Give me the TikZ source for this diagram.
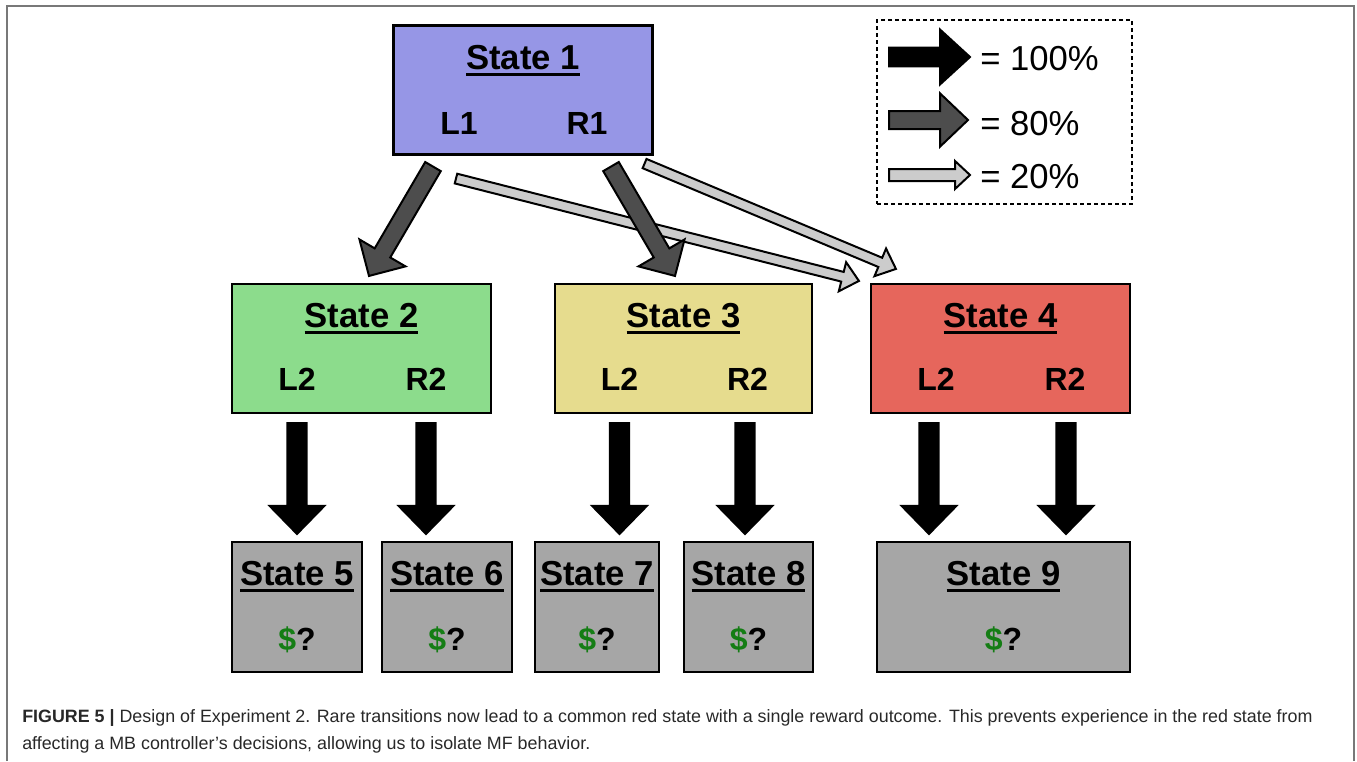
\documentclass[tikz,border=0pt]{standalone}
\usepackage{fontspec}
\setmainfont{Liberation Sans}
\usetikzlibrary{calc}

\definecolor{stateone}{RGB}{150,150,230}
\definecolor{statetwo}{RGB}{140,220,140}
\definecolor{statethree}{RGB}{230,220,142}
\definecolor{statefour}{RGB}{230,102,92}
\definecolor{stateend}{RGB}{166,166,166}
\definecolor{eighty}{RGB}{77,77,77}
\definecolor{twenty}{RGB}{204,204,204}
\definecolor{money}{RGB}{20,125,20}
\definecolor{captext}{RGB}{40,40,40}
\definecolor{frame}{RGB}{120,120,120}

\newcommand{\stname}[1]{\setbox0\hbox{#1}\rlap{\rule[-4.9pt]{\wd0}{2.25pt}}\box0}
\newcommand{\reward}{\textcolor{money}{\$}?}

% fill, from, to, shaft half width, head half width, head length
\newcommand{\blockarrow}[6]{%
    \filldraw[fill=#1, draw=black, line width=1.5pt, line join=miter]
        ($(#2)!#4!90:(#3)$) -- ($(#3)!#6!(#2)!#4!-90:(#2)$)
        -- ($(#3)!#6!(#2)!#5!-90:(#2)$) -- (#3)
        -- ($(#3)!#6!(#2)!#5!90:(#2)$) -- ($(#3)!#6!(#2)!#4!90:(#2)$)
        -- ($(#2)!#4!-90:(#3)$) -- cycle;}

\tikzset{
    box/.style={draw=black, line width=1.6pt, inner sep=0pt,
        minimum width=194.25pt, minimum height=96.75pt},
    endbox/.style={box, fill=stateend, minimum height=97.5pt},
    ttl/.style={anchor=base, inner sep=0pt, font=\fontsize{26}{30}\selectfont\bfseries},
    act/.style={anchor=base, inner sep=0pt, font=\fontsize{24}{28}\selectfont\bfseries},
    keytext/.style={anchor=base west, inner sep=0pt, font=\fontsize{26}{30}\selectfont},
    captline/.style={anchor=base west, inner sep=0pt, text=captext,
        font=\fontsize{13.4}{16}\selectfont}
}

\begin{document}
\begin{tikzpicture}[x=0.75pt, y=-0.75pt]
    \useasboundingbox (0,0) rectangle (1357,761);
    \draw[frame, line width=1.5pt] (7,761) -- (7,6) -- (1354,6) -- (1354,761);

    \node[box, fill=stateone] (s1) at (523,90) {};
    \node[ttl] (t1) at ($(s1.north)+(0,45)$) {\stname{State 1}};
    \node[act] (l1) at ($(s1.north)+(-64,110)$) {L1};
    \node[act] (r1) at ($(s1.north)+(64,110)$) {R1};

    \node[box, fill=statetwo] (s2) at (361.5,348.5) {};
    \node[ttl] (t2) at ($(s2.north)+(0,45)$) {\stname{State 2}};
    \node[act] (l2a) at ($(s2.north)+(-64.5,108)$) {L2};
    \node[act] (r2a) at ($(s2.north)+(64.5,108)$) {R2};

    \node[box, fill=statethree, minimum width=192.75pt] (s3) at (683.5,348.5) {};
    \node[ttl] (t3) at ($(s3.north)+(0,45)$) {\stname{State 3}};
    \node[act] (l2b) at ($(s3.north)+(-64,108)$) {L2};
    \node[act] (r2b) at ($(s3.north)+(64,108)$) {R2};

    \node[box, fill=statefour] (s4) at (1000.5,348.5) {};
    \node[ttl] (t4) at ($(s4.north)+(0,45)$) {\stname{State 4}};
    \node[act] (l2c) at ($(s4.north)+(-64.5,108)$) {L2};
    \node[act] (r2c) at ($(s4.north)+(64.5,108)$) {R2};

    \node[endbox, minimum width=97.5pt] (s5) at (297,607) {};
    \node[endbox, minimum width=97.5pt] (s6) at (447,607) {};
    \node[endbox, minimum width=93pt] (s7) at (597,607) {};
    \node[endbox, minimum width=96.75pt] (s8) at (748.5,607) {};
    \node[endbox, minimum width=189.75pt] (s9) at (1003.5,607) {};
    \foreach \s/\n in {s5/5, s6/6, s7/7, s8/8, s9/9} {
        \node[ttl] (t\n) at ($(\s.north)+(0,45)$) {\stname{State \n}};
        \node[act] (m\n) at ($(\s.north)+(0,110)$) {\reward};
    }

    \node[draw, line width=1.5pt, dash pattern=on 3pt off 2.25pt,
        minimum width=191.25pt, minimum height=138pt] (key) at (1004.5,112) {};
    \node[keytext] (k100) at (980,70) {= 100\%};
    \node[keytext] (k80) at (980,135) {= 80\%};
    \node[keytext] (k20) at (980,188) {= 20\%};

    \coordinate (ka1) at (889,57);  \coordinate (kb1) at (970,57);
    \coordinate (ka2) at (889,120); \coordinate (kb2) at (968,120);
    \coordinate (ka3) at (889,175); \coordinate (kb3) at (970,175);
    \blockarrow{black}{ka1}{kb1}{7.1pt}{20.6pt}{22.5pt}
    \blockarrow{eighty}{ka2}{kb2}{6.75pt}{20pt}{21pt}
    \blockarrow{twenty}{ka3}{kb3}{4.5pt}{10.5pt}{11.25pt}

    \coordinate (ra1) at ($(s1.south)+(-67,23)$);
    \coordinate (rb1) at ($(s4.north west)+(-11,-2)$);
    \coordinate (ra2) at ($(s1.south east)+(-9,8)$);
    \coordinate (rb2) at ($(s4.north west)+(26,-14)$);
    \blockarrow{twenty}{ra1}{rb1}{3.75pt}{11.25pt}{12.75pt}
    \blockarrow{twenty}{ra2}{rb2}{3.75pt}{11.25pt}{12.75pt}

    \coordinate (ca1) at ($(s1.south)+(-90,11)$);
    \coordinate (cb1) at ($(s2.north)+(7.5,-7)$);
    \coordinate (ca2) at ($(s1.south)+(88,11)$);
    \coordinate (cb2) at ($(s3.north)+(-8.5,-7)$);
    \blockarrow{eighty}{ca1}{cb1}{6.75pt}{20pt}{20pt}
    \blockarrow{eighty}{ca2}{cb2}{6.75pt}{20pt}{20pt}

    \coordinate (da1) at ($(s2.south -| l2a)+(0,9)$);
    \coordinate (db1) at ($(s5.north -| l2a)+(0,-7)$);
    \coordinate (da2) at ($(s2.south -| r2a)+(0,9)$);
    \coordinate (db2) at ($(s6.north -| r2a)+(0,-7)$);
    \coordinate (da3) at ($(s3.south -| l2b)+(0,9)$);
    \coordinate (db3) at ($(s7.north -| l2b)+(0,-7)$);
    \coordinate (da4) at ($(s3.south)+(61.5,9)$);
    \coordinate (db4) at ($(s8.north)+(-3.5,-7)$);
    \coordinate (da5) at ($(s4.south)+(-71.5,9)$);
    \coordinate (db5) at ($(s9.north)+(-74.5,-7)$);
    \coordinate (da6) at ($(s4.south)+(65.5,9)$);
    \coordinate (db6) at ($(s9.north)+(62.5,-7)$);
    \foreach \i in {1,...,6} {
        \blockarrow{black}{da\i}{db\i}{7.3pt}{20.5pt}{21pt}
    }

    \node[captline] (cap1) at (22,722) {\textbf{FIGURE 5 |} Design of Experiment 2. Rare transitions now lead to a common red state with a single reward outcome. This prevents experience in the red state from};
    \node[captline] (cap2) at (22,749) {affecting a MB controller's decisions, allowing us to isolate MF behavior.};
\end{tikzpicture}
\end{document}
